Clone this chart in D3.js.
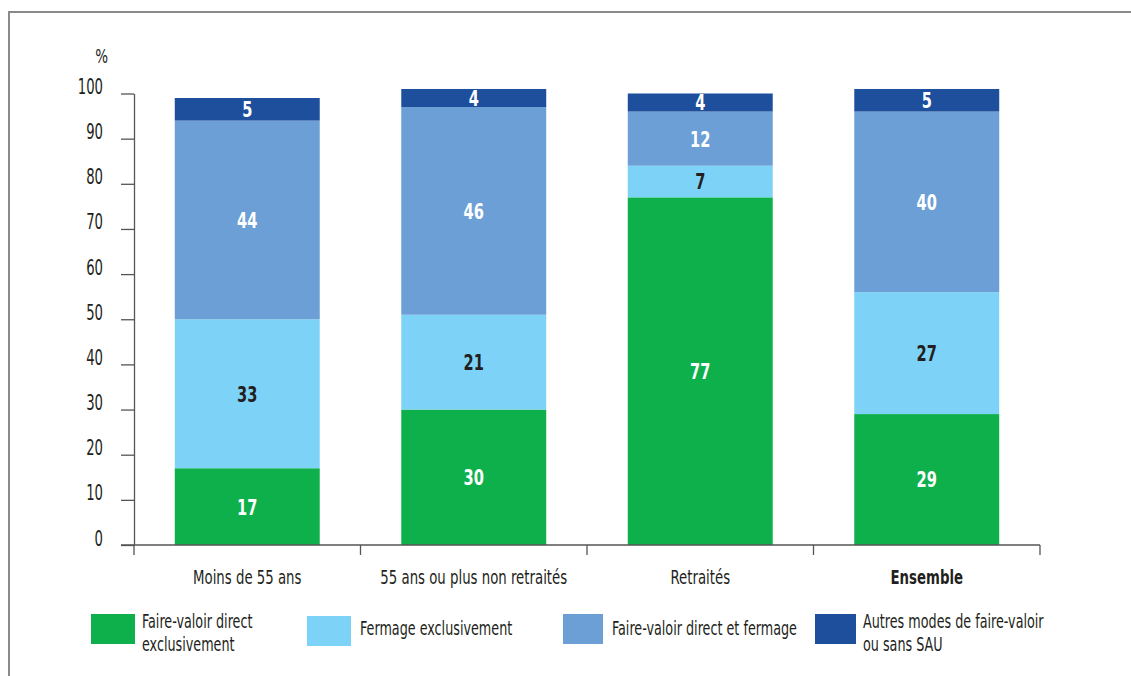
<!DOCTYPE html>
<html>
<head>
<meta charset="utf-8">
<script src="https://cdn.jsdelivr.net/npm/d3@7"></script>
<style>
  html, body { margin: 0; padding: 0; background: #fff; }
  svg { display: block; }
  text { font-family: "DejaVu Sans", sans-serif; font-stretch: condensed; }
</style>
</head>
<body>
<svg id="chart" width="1131" height="676"></svg>
<script>
// Categories (age groups) and stacked shares in %
const categories = ["Moins de 55 ans", "55 ans ou plus non retraités", "Retraités", "Ensemble"];
const seriesNames = [
  "Faire-valoir direct exclusivement",
  "Fermage exclusivement",
  "Faire-valoir direct et fermage",
  "Autres modes de faire-valoir ou sans SAU"
];
const fvdExclusif     = [17, 30, 77, 29];
const fermageExclusif = [33, 21, 7, 27];
const fvdEtFermage    = [44, 46, 12, 40];
const autresModes     = [5, 4, 4, 5];
const yTicks = [0, 10, 20, 30, 40, 50, 60, 70, 80, 90, 100];

const colors = ["#0db04b", "#7dd3f7", "#6c9fd5", "#1d4f9c"];
const labelColors = ["#ffffff", "#231f20", "#ffffff", "#ffffff"];
const ink = "#231f20";

const rows = categories.map((c, i) => ({
  cat: c,
  s0: fvdExclusif[i], s1: fermageExclusif[i], s2: fvdEtFermage[i], s3: autresModes[i]
}));
const keys = ["s0", "s1", "s2", "s3"];
const stacked = d3.stack().keys(keys)(rows);

const svg = d3.select("#chart");

// Narrow, tall lettering: place text then squeeze it horizontally
function place(sel, x, y, sx) {
  return sel.attr("transform", `translate(${x},${y}) scale(${sx},1)`);
}

// Frame
svg.append("path")
  .attr("d", "M9,700 L9,12 L1140,12")
  .attr("fill", "none").attr("stroke", "#8a8a8a").attr("stroke-width", 2);

const x = d3.scaleBand().domain(categories).range([134, 1040])
  .paddingInner(0.36).paddingOuter(0.18);
const y = d3.scaleLinear().domain([0, 100]).range([545, 93.5]);

// Bars and value labels
const layer = svg.append("g");
stacked.forEach((s, si) => {
  layer.selectAll(null).data(s).enter().append("rect")
    .attr("x", d => x(d.data.cat))
    .attr("width", x.bandwidth())
    .attr("y", d => y(d[1]))
    .attr("height", d => y(d[0]) - y(d[1]))
    .attr("fill", colors[si]);
  layer.selectAll(null).data(s).enter().append("text")
    .attr("transform", d => `translate(${x(d.data.cat) + x.bandwidth() / 2},${(y(d[0]) + y(d[1])) / 2}) scale(0.74,1)`)
    .attr("dy", "0.36em")
    .attr("text-anchor", "middle")
    .attr("font-size", 22).attr("font-weight", "bold")
    .attr("fill", labelColors[si])
    .text(d => d[1] - d[0]);
});

// Y axis
const ySx = 0.7;
const yAxis = svg.append("g").attr("transform", "translate(134,0)")
  .call(d3.axisLeft(y).tickValues(yTicks).tickSize(13).tickPadding(18).tickSizeOuter(0));
yAxis.select(".domain").attr("stroke", "#555").attr("stroke-width", 1.3);
yAxis.selectAll(".tick line").attr("stroke", "#555").attr("stroke-width", 1.3);
yAxis.selectAll(".tick text")
  .attr("font-size", 21).attr("fill", ink)
  .attr("font-family", "'DejaVu Sans', sans-serif")
  .attr("x", -31 / ySx).attr("dy", "0em")
  .attr("transform", `scale(${ySx},1)`);

place(svg.append("text"), 108, 63, 0.75)
  .attr("text-anchor", "end").attr("font-size", 20).attr("fill", ink).text("%");

// X axis: baseline and category separators
const xAxisG = svg.append("g");
xAxisG.append("line").attr("x1", 121).attr("x2", 1040).attr("y1", 545).attr("y2", 545)
  .attr("stroke", "#555").attr("stroke-width", 1.3);
const sepPositions = categories.map((c, i) => x.range()[0] + i * x.step());
sepPositions.push(x.range()[1]);
xAxisG.selectAll(null).data(sepPositions).enter().append("line")
  .attr("x1", d => d).attr("x2", d => d).attr("y1", 545).attr("y2", 555)
  .attr("stroke", "#555").attr("stroke-width", 1.3);

xAxisG.selectAll(null).data(categories).enter().append("text")
  .attr("transform", d => `translate(${x(d) + x.bandwidth() / 2},584) scale(0.74,1)`)
  .attr("text-anchor", "middle")
  .attr("font-size", 20)
  .attr("font-weight", d => d === "Ensemble" ? "bold" : "normal")
  .attr("fill", ink)
  .text(d => d);

// Legend
const legendItems = [
  { sx: 91, tx: 142, lines: ["Faire-valoir direct", "exclusivement"], sy: 614, w: 44 },
  { sx: 307, tx: 360, lines: ["Fermage exclusivement"], sy: 616, w: 44 },
  { sx: 563, tx: 612, lines: ["Faire-valoir direct et fermage"], sy: 614, w: 40 },
  { sx: 815, tx: 863, lines: ["Autres modes de faire-valoir", "ou sans SAU"], sy: 614, w: 41 }
];
const legend = svg.append("g");
legendItems.forEach((it, i) => {
  legend.append("rect").attr("x", it.sx).attr("y", it.sy)
    .attr("width", it.w).attr("height", 30).attr("fill", colors[i]);
  const baseY = it.lines.length === 1 ? 635 : 628;
  it.lines.forEach((ln, j) => {
    place(legend.append("text"), it.tx, baseY + j * 23, 0.71)
      .attr("font-size", 20).attr("fill", ink).text(ln);
  });
});
</script>
</body>
</html>
